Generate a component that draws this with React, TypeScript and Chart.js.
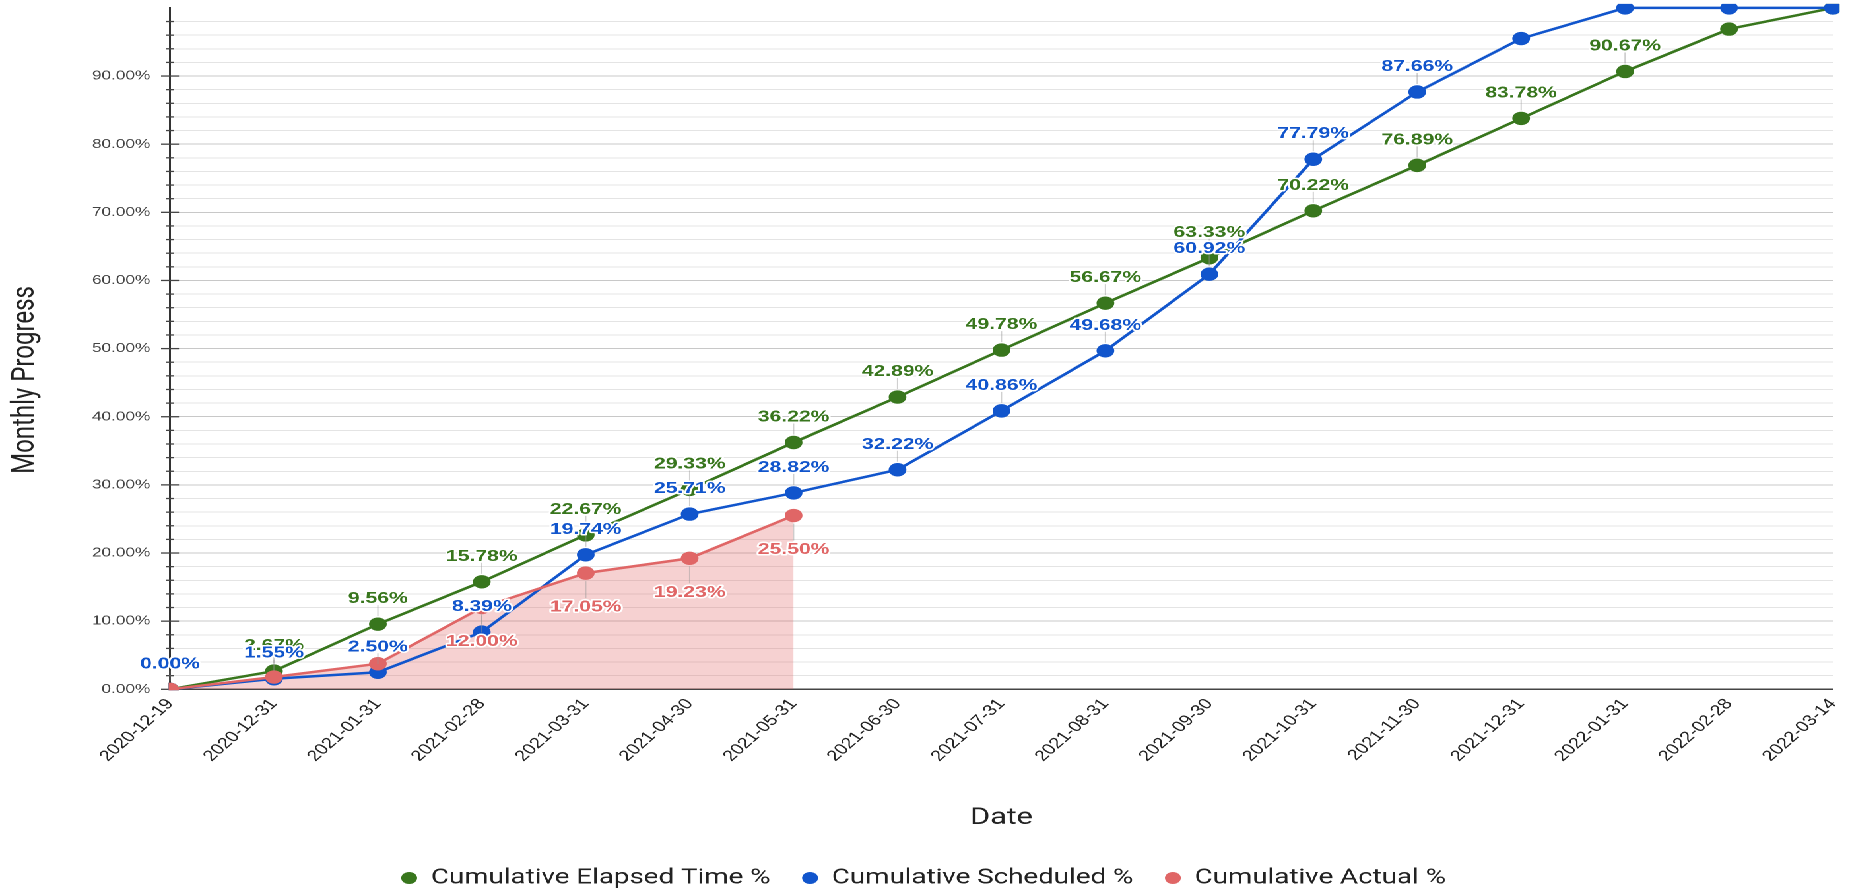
import { useEffect, useRef } from 'react';
import { Chart, registerables } from 'chart.js';

Chart.register(...registerables);

// ---------------- data ----------------
const dateLabels = [
  '2020-12-19', '2020-12-31', '2021-01-31', '2021-02-28', '2021-03-31', '2021-04-30',
  '2021-05-31', '2021-06-30', '2021-07-31', '2021-08-31', '2021-09-30', '2021-10-31',
  '2021-11-30', '2021-12-31', '2022-01-31', '2022-02-28', '2022-03-14',
];
const elapsedPct = [0, 2.67, 9.56, 15.78, 22.67, 29.33, 36.22, 42.89, 49.78, 56.67, 63.33, 70.22, 76.89, 83.78, 90.67, 96.89, 100];
const scheduledPct = [0, 1.55, 2.5, 8.39, 19.74, 25.71, 28.82, 32.22, 40.86, 49.68, 60.92, 77.79, 87.66, 95.5, 100, 100, 100];
const actualPct = [0, 1.8, 3.75, 12.0, 17.05, 19.23, 25.5];

// which points carry a value annotation
const elapsedLabelIdx = [1, 2, 3, 4, 5, 6, 7, 8, 9, 10, 11, 12, 13, 14];
const scheduledLabelIdx = [0, 1, 2, 3, 4, 5, 6, 7, 8, 9, 10, 11, 12];
const actualLabelIdx = [3, 4, 5, 6];

const seriesNames = ['Cumulative Elapsed Time %', 'Cumulative Scheduled %', 'Cumulative Actual %'];
const yAxisTitle = 'Monthly Progress';
const xAxisTitle = 'Date';

// ---------------- style ----------------
const GREEN = '#38761d';
const BLUE = '#1155cc';
const RED = '#e06666';
const RED_FILL = 'rgba(224,102,102,0.3)';

const S = 1.32; // horizontal stretch of the reference picture
const W = 1868 / S;
const H = 892;
const LEGEND_H = 48.5;
const PAD_LEFT = 10.8;

const LABEL_FONT = '"Liberation Sans", Arial, sans-serif';
const TITLE_FONT = 'Roboto, "Noto Sans", sans-serif';

const annotationPlugin = {
  id: 'valueAnnotations',
  afterDatasetsDraw(chart: any) {
    const { ctx } = chart;
    const specs = [
      { ds: 0, idx: elapsedLabelIdx, color: GREEN, below: false },
      { ds: 1, idx: scheduledLabelIdx, color: BLUE, below: false },
      { ds: 2, idx: actualLabelIdx, color: RED, below: true },
    ];
    ctx.save();
    ctx.strokeStyle = 'rgba(150,150,150,0.45)';
    ctx.lineWidth = 1;
    specs.forEach((s) => {
      const meta = chart.getDatasetMeta(s.ds);
      s.idx.forEach((i) => {
        const p = meta.data[i];
        if (!p) return;
        ctx.beginPath();
        if (s.below) {
          ctx.moveTo(p.x, p.y + 8);
          ctx.lineTo(p.x, p.y + 25);
        } else {
          ctx.moveTo(p.x, p.y - 8);
          ctx.lineTo(p.x, p.y - 19);
        }
        ctx.stroke();
      });
    });
    ctx.font = `bold 16px ${LABEL_FONT}`;
    ctx.textAlign = 'center';
    ctx.textBaseline = 'alphabetic';
    ctx.lineJoin = 'round';
    ctx.lineWidth = 3;
    ctx.strokeStyle = '#ffffff';
    specs.forEach((s) => {
      const meta = chart.getDatasetMeta(s.ds);
      const data = chart.data.datasets[s.ds].data;
      s.idx.forEach((i) => {
        const p = meta.data[i];
        if (!p) return;
        const text = Number(data[i]).toFixed(2) + '%';
        const y = s.below ? p.y + 38.5 : p.y - 21;
        ctx.strokeText(text, p.x, y);
        ctx.fillStyle = s.color;
        ctx.fillText(text, p.x, y);
      });
    });
    ctx.restore();
  },
};

const axisDecorPlugin = {
  id: 'axisDecor',
  beforeLayout(chart: any) {
    const lg = chart.legend;
    if (lg && !lg.__fixedHeight) {
      const orig = lg.fit.bind(lg);
      lg.fit = function () {
        orig();
        this.height = LEGEND_H;
      };
      lg.__fixedHeight = true;
    }
  },
  beforeDatasetsDraw(chart: any) {
    const { ctx } = chart;
    const yScale = chart.scales.y;
    const x0 = chart.chartArea.left;
    ctx.save();
    ctx.strokeStyle = '#444';
    ctx.lineWidth = 1.3;
    yScale.ticks.forEach((t: any) => {
      if (t.value >= 100) return;
      const y = yScale.getPixelForValue(t.value);
      const major = t.value % 10 === 0;
      const half = major ? 6.8 : 3;
      ctx.beginPath();
      ctx.moveTo(x0 - half, y);
      ctx.lineTo(x0 + half, y);
      ctx.stroke();
    });
    ctx.restore();
  },
  afterDraw(chart: any) {
    const { ctx } = chart;
    ctx.save();
    ctx.translate(25.5, 380);
    ctx.rotate(-Math.PI / 2);
    ctx.font = `24px ${TITLE_FONT}`;
    ctx.fillStyle = '#222';
    ctx.textAlign = 'center';
    ctx.textBaseline = 'alphabetic';
    ctx.fillText(yAxisTitle, 0, 0);
    ctx.restore();
  },
};

export default function App() {
  const ref = useRef<HTMLCanvasElement>(null);
  useEffect(() => {
    document.body.style.margin = '0';
    const clip = { left: 1, top: 4, right: 5, bottom: 1 };
    const common = {
      borderWidth: 2.5,
      pointRadius: 6.7,
      pointHoverRadius: 6.7,
      pointBorderWidth: 0,
      tension: 0,
      clip,
    };
    const chart = new Chart(ref.current as HTMLCanvasElement, {
      type: 'line',
      data: {
        labels: dateLabels,
        datasets: [
          {
            ...common,
            label: seriesNames[0],
            data: elapsedPct,
            borderColor: GREEN,
            backgroundColor: GREEN,
            pointBackgroundColor: GREEN,
            pointBorderColor: GREEN,
            fill: false,
            order: 3,
          },
          {
            ...common,
            label: seriesNames[1],
            data: scheduledPct,
            borderColor: BLUE,
            backgroundColor: BLUE,
            pointBackgroundColor: BLUE,
            pointBorderColor: BLUE,
            fill: false,
            order: 2,
          },
          {
            ...common,
            label: seriesNames[2],
            data: actualPct,
            borderColor: RED,
            backgroundColor: RED_FILL,
            pointBackgroundColor: RED,
            pointBorderColor: RED,
            fill: 'origin',
            order: 1,
          },
        ],
      },
      options: {
        animation: false,
        responsive: true,
        maintainAspectRatio: false,
        devicePixelRatio: 2,
        events: [],
        layout: { padding: { top: 7.9, left: PAD_LEFT, right: W - 1833 / S, bottom: 0 } },
        scales: {
          x: {
            type: 'category',
            offset: false,
            grid: { display: false, drawTicks: false },
            border: { display: true, color: '#444', width: 1.5 },
            ticks: {
              autoSkip: false,
              minRotation: 49,
              maxRotation: 49,
              padding: 6,
              color: '#222',
              font: { family: LABEL_FONT, size: 15 },
            },
            title: {
              display: true,
              text: xAxisTitle,
              color: '#222',
              font: { family: TITLE_FONT, size: 23 },
              padding: { top: 0, bottom: 11.7 },
            },
            afterFit: (scale: any) => {
              scale.height = 154.2;
            },
          },
          y: {
            min: 0,
            max: 100,
            grid: {
              drawTicks: true,
              tickLength: 15,
              tickColor: 'rgba(0,0,0,0)',
              lineWidth: 1,
              color: (c: any) => {
                const v = c.tick ? c.tick.value : 0;
                if (v >= 100) return 'rgba(0,0,0,0)';
                return v % 10 === 0 ? '#c8c8c8' : '#e4e4e4';
              },
            },
            border: { display: true, color: '#333', width: 1.5 },
            ticks: {
              stepSize: 2,
              autoSkip: false,
              padding: 0,
              color: '#444',
              font: { family: LABEL_FONT, size: 13 },
              callback: (v: any) => (Number(v) % 10 === 0 && Number(v) < 100 ? Number(v).toFixed(2) + '%' : ''),
            },
            afterFit: (scale: any) => {
              scale.width = 170 / S - PAD_LEFT;
            },
          },
        },
        plugins: {
          legend: {
            position: 'bottom',
            labels: {
              usePointStyle: true,
              pointStyle: 'circle',
              boxWidth: 12,
              boxHeight: 8.5,
              padding: 24,
              color: '#222',
              font: { family: TITLE_FONT, size: 21 },
              sort: (a: any, b: any) => a.datasetIndex - b.datasetIndex,
            },
          },
          tooltip: { enabled: false },
          filler: { drawTime: 'beforeDatasetsDraw' },
        } as any,
      },
      plugins: [axisDecorPlugin, annotationPlugin],
    } as any);
    return () => chart.destroy();
  }, []);
  return (
    <div
      style={{
        position: 'fixed',
        left: 0,
        top: 0,
        width: W,
        height: H,
        transform: `scaleX(${S})`,
        transformOrigin: '0 0',
        background: '#fff',
      }}
    >
      <canvas ref={ref} />
    </div>
  );
}
